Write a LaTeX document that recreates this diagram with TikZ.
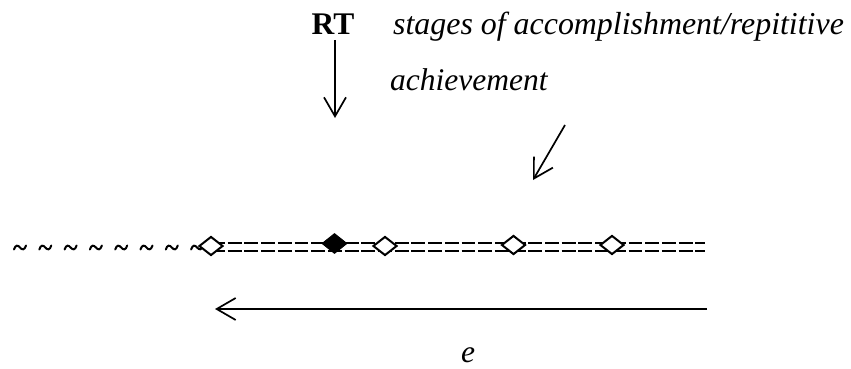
\documentclass[tikz,border=0pt]{standalone}
\usepackage{fontspec}
\setmainfont{Liberation Serif}
\usetikzlibrary{arrows.meta,shapes.geometric}
\begin{document}
\begin{tikzpicture}[x=1pt,y=-1pt,
  lbl/.style={inner sep=0pt,font=\fontsize{31.5}{37}\selectfont},
  arr/.style={line width=1.7pt,-{Straight Barb[length=19pt,width=22pt,line width=1.7pt]}},
  eqline/.style={line width=2pt,dash pattern=on 13.9pt off 2.8pt},
  opend/.style={diamond,draw,fill=white,line width=2pt,inner sep=0pt,minimum width=24pt,minimum height=19pt},
  filld/.style={diamond,draw,fill=black,line width=1pt,inner sep=0pt,minimum width=25pt,minimum height=20pt},
  tldline/.style={line width=2pt,line cap=round}]
\useasboundingbox (0,0) rectangle (851,369);
% texts
\node[lbl,anchor=base] (RT) at (333,35) {\textbf{RT}};
\node[lbl,anchor=base west,font=\fontsize{31.9}{37}\selectfont] (stages) at (393,35) {\textit{stages of accomplishment/repititive}};
\node[lbl,anchor=base west] (ach) at (390,90.5) {\textit{achievement}};
\node[lbl,anchor=base] (e) at (468,362) {\textit{e}};
% arrows
\coordinate (rtA) at (335,40);
\coordinate (rtB) at (335,118);
\draw[arr] (rtA) -- (rtB);
\coordinate (stA) at (565,125);
\coordinate (stB) at (533,180);
\draw[arr] (stA) -- (stB);
\coordinate (eA) at (707,309);
\coordinate (eB) at (215,309);
\draw[arr] (eA) -- (eB);
% tildes
\foreach \i in {1,...,8} {
  \coordinate (t\i) at ({20+25.3*(\i-1)},247.5);
  \draw[tldline] ([shift={(-6,2)}]t\i) .. controls ([shift={(-4.5,-3)}]t\i) and ([shift={(-2,-2.5)}]t\i) .. (t\i)
     .. controls ([shift={(2,2.5)}]t\i) and ([shift={(4.5,3)}]t\i) .. ([shift={(6,-2)}]t\i);
}
% double dashed line
\coordinate (lineEnd) at (705,247);
\coordinate (lineStart) at (211,247);
\draw[eqline] ([yshift=-4pt]lineStart) -- ([yshift=-4pt]lineEnd);
\draw[eqline] ([yshift=4pt]lineStart) -- ([yshift=4pt]lineEnd);
% diamonds
\node[opend] (d1) at (211,246) {};
\node[filld] (d2) at (334.5,243.5) {};
\node[opend] (d3) at (385,246) {};
\node[opend] (d4) at (513.5,245) {};
\node[opend] (d5) at (612,245) {};
\end{tikzpicture}
\end{document}
